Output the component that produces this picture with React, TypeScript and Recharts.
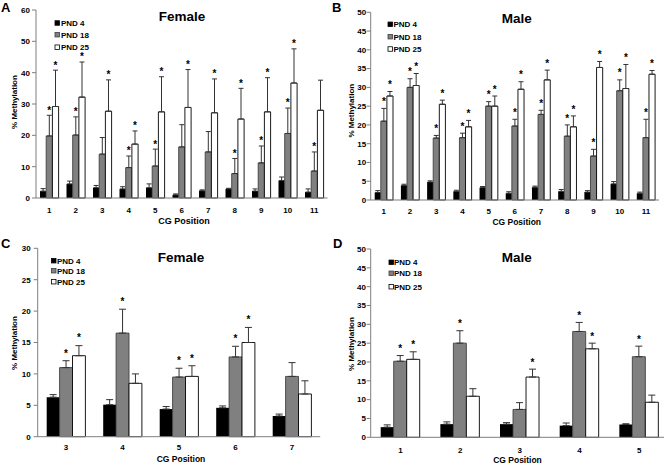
import React from 'react';
import { BarChart, Bar, XAxis, YAxis, ErrorBar, LabelList } from 'recharts';

const FONT = '"Liberation Sans", Arial, Helvetica, sans-serif';
const AXIS = '#7f7f7f';
const ERR = '#333333';

const seriesNames = ['PND 4', 'PND 18', 'PND 25'];
const seriesFill = ['#000000', '#808080', '#ffffff'];
const seriesStroke = ['#000000', '#3f3f3f', '#000000'];

// ---- Panel A: Female, CG 1-11
const posA = ['1', '2', '3', '4', '5', '6', '7', '8', '9', '10', '11'];
const femA4 = [2.2, 4.5, 3.3, 2.9, 3.3, 1.0, 2.3, 2.9, 2.2, 5.6, 1.9];
const femA4Err = [0.8, 0.9, 0.7, 0.7, 1.2, 0.3, 0.3, 0.2, 0.7, 1.1, 1.0];
const femA18 = [19.8, 20.1, 14.0, 9.7, 10.2, 16.3, 14.7, 7.8, 11.2, 20.6, 8.6];
const femA18Err = [6.6, 5.8, 5.3, 3.7, 5.4, 7.1, 6.5, 4.8, 5.4, 8.1, 6.1];
const femA25 = [29.2, 32.2, 27.7, 17.2, 27.5, 28.9, 27.2, 25.2, 27.5, 36.7, 28.0];
const femA25Err = [11.6, 11.2, 10.0, 4.2, 11.2, 12.1, 10.8, 9.8, 10.9, 10.9, 9.6];
const femA18Star = [1, 1, 0, 1, 1, 0, 0, 1, 1, 1, 1];
const femA25Star = [1, 1, 1, 1, 1, 1, 1, 1, 1, 1, 0];
const ticksA = [0, 10, 20, 30, 40, 50, 60];

// ---- Panel B: Male, CG 1-11
const posB = ['1', '2', '3', '4', '5', '6', '7', '8', '9', '10', '11'];
const maleB4 = [2.0, 3.9, 4.8, 2.3, 3.3, 1.8, 3.4, 2.3, 2.1, 4.3, 1.8];
const maleB4Err = [0.5, 0.3, 0.3, 0.3, 0.3, 0.4, 0.3, 0.5, 0.4, 0.6, 0.3];
const maleB18 = [21.0, 30.0, 16.5, 16.6, 25.0, 19.7, 22.8, 17.0, 11.7, 29.1, 16.6];
const maleB18Err = [3.4, 2.3, 0.7, 1.2, 1.2, 1.8, 1.1, 3.0, 1.8, 2.9, 4.9];
const maleB25 = [27.7, 30.5, 25.5, 19.5, 25.0, 29.5, 32.0, 19.5, 35.3, 29.7, 33.5];
const maleB25Err = [1.2, 3.2, 1.1, 1.7, 2.7, 2.0, 2.6, 2.9, 1.6, 6.4, 1.0];
const maleB18Star = [1, 1, 1, 1, 1, 1, 1, 1, 1, 1, 1];
const maleB25Star = [1, 1, 1, 1, 1, 1, 1, 1, 1, 1, 1];
const ticksB = [0, 5, 10, 15, 20, 25, 30, 35, 40, 45, 50];

// ---- Panel C: Female, CG 3-7
const posC = ['3', '4', '5', '6', '7'];
const femC4 = [6.3, 5.1, 4.4, 4.6, 3.3];
const femC4Err = [0.4, 0.8, 0.4, 0.3, 0.3];
const femC18 = [11.0, 16.5, 9.5, 12.7, 9.6];
const femC18Err = [1.1, 3.8, 1.4, 1.7, 2.2];
const femC25 = [12.9, 8.5, 9.6, 15.0, 6.8];
const femC25Err = [1.6, 1.5, 1.7, 2.4, 2.1];
const femC18Star = [1, 1, 1, 1, 0];
const femC25Star = [1, 0, 1, 1, 0];
const ticksC = [0, 5, 10, 15, 20, 25, 30];

// ---- Panel D: Male, CG 1-5
const posD = ['1', '2', '3', '4', '5'];
const maleD4 = [2.7, 3.5, 3.5, 3.1, 3.4];
const maleD4Err = [0.6, 0.6, 0.4, 0.7, 0.2];
const maleD18 = [20.2, 25.0, 7.4, 28.1, 21.4];
const maleD18Err = [1.5, 3.3, 1.8, 2.4, 2.8];
const maleD25 = [20.7, 10.9, 16.0, 23.5, 9.3];
const maleD25Err = [2.0, 2.0, 2.1, 1.5, 1.9];
const maleD18Star = [1, 1, 0, 1, 1];
const maleD25Star = [1, 0, 1, 1, 0];
const ticksD = [0, 5, 10, 15, 20, 25, 30, 35, 40, 45, 50];

type Cfg = {
  cats: string[];
  v: number[][];
  e: number[][];
  s18: number[];
  s25: number[];
  ticks: number[];
  box: { left: number; top: number; width: number; height: number };
  margin: { top: number; right: number; bottom: number; left: number };
  yAxisWidth: number;
  yTickMargin: number;
  xAxisHeight: number;
  xTickMargin: number;
  barSize: number;
  capWidth: number;
  starLift: number;
};

const panels: Cfg[] = [
  {
    cats: posA, v: [femA4, femA18, femA25], e: [femA4Err, femA18Err, femA25Err],
    s18: femA18Star, s25: femA25Star, ticks: ticksA,
    box: { left: 0, top: 0, width: 330, height: 232 },
    margin: { top: 10, right: 2.5, bottom: 0, left: 0 },
    yAxisWidth: 36, yTickMargin: 2, xAxisHeight: 34, xTickMargin: 3.2, barSize: 6.2, capWidth: 2.5, starLift: 1.6,
  },
  {
    cats: posB, v: [maleB4, maleB18, maleB25], e: [maleB4Err, maleB18Err, maleB25Err],
    s18: maleB18Star, s25: maleB25Star, ticks: ticksB,
    box: { left: 330, top: 0, width: 334, height: 232 },
    margin: { top: 12.3, right: 5, bottom: 0, left: 0 },
    yAxisWidth: 40.7, yTickMargin: 0.5, xAxisHeight: 32, xTickMargin: 2, barSize: 6.1, capWidth: 2.5, starLift: 3.4,
  },
  {
    cats: posC, v: [femC4, femC18, femC25], e: [femC4Err, femC18Err, femC25Err],
    s18: femC18Star, s25: femC25Star, ticks: ticksC,
    box: { left: 0, top: 230, width: 330, height: 234 },
    margin: { top: 18.3, right: 9.8, bottom: 0, left: 0 },
    yAxisWidth: 37.7, yTickMargin: 3, xAxisHeight: 27.3, xTickMargin: 1.2, barSize: 12.9, capWidth: 3.5, starLift: 4.2,
  },
  {
    cats: posD, v: [maleD4, maleD18, maleD25], e: [maleD4Err, maleD18Err, maleD25Err],
    s18: maleD18Star, s25: maleD25Star, ticks: ticksD,
    box: { left: 330, top: 230, width: 340, height: 234 },
    margin: { top: 19, right: 1, bottom: 0, left: 0 },
    yAxisWidth: 40.7, yTickMargin: 0.7, xAxisHeight: 26.7, xTickMargin: 3.9, barSize: 13, capWidth: 3.5, starLift: 3.4,
  },
];

const makeStarContent = (lift: number) => (props: any) => {
  const v = props.value;
  if (typeof v !== 'string' || !v) return null;
  const [val, err] = v.split('|').map(Number);
  const vb = props.viewBox || props;
  const x = Number(vb.x);
  const y = Number(vb.y);
  const w = Number(vb.width);
  const h = Number(vb.height);
  const hh = Math.abs(h);
  if (!val || !hh || isNaN(x)) return null;
  const top = Math.min(y, y + h);
  const errTop = top - (err * hh) / val;
  return (
    <text x={x + w / 2} y={errTop - lift} textAnchor="middle" fontSize={10} fontWeight="bold" fontFamily={FONT} fill="#000">
      *
    </text>
  );
};

function Panel({ cfg }: { cfg: Cfg }) {
  const rows = cfg.cats.map((c, i) => ({
    cat: c,
    pnd4: cfg.v[0][i],
    pnd18: cfg.v[1][i],
    pnd25: cfg.v[2][i],
    err4: [0, cfg.e[0][i]],
    err18: [0, cfg.e[1][i]],
    err25: [0, cfg.e[2][i]],
    star18: cfg.s18[i] ? `${cfg.v[1][i]}|${cfg.e[1][i]}` : '',
    star25: cfg.s25[i] ? `${cfg.v[2][i]}|${cfg.e[2][i]}` : '',
  }));
  const n = cfg.cats.length;
  const bounds = Array.from({ length: n + 1 }, (_, i) => i);
  const yMax = cfg.ticks[cfg.ticks.length - 1];
  const tickStyle = { fontSize: 8, fontWeight: 'bold', fill: '#000', fontFamily: FONT };
  const keys = ['pnd4', 'pnd18', 'pnd25'];
  const errKeys = ['err4', 'err18', 'err25'];
  const starContent = makeStarContent(cfg.starLift);
  return (
    <div style={{ position: 'absolute', left: cfg.box.left, top: cfg.box.top }}>
      <BarChart
        width={cfg.box.width}
        height={cfg.box.height}
        data={rows}
        margin={cfg.margin}
        barGap={0}
        barSize={cfg.barSize}
      >
        <XAxis
          xAxisId="bounds"
          type="number"
          domain={[0, n]}
          ticks={bounds}
          tick={false}
          tickSize={3}
          tickLine={{ stroke: AXIS }}
          axisLine={false}
          height={0}
          allowDataOverflow
        />
        <XAxis
          dataKey="cat"
          tickLine={false}
          axisLine={{ stroke: AXIS }}
          tick={tickStyle}
          interval={0}
          height={cfg.xAxisHeight}
          tickSize={6}
          tickMargin={cfg.xTickMargin}
        />
        <YAxis
          type="number"
          domain={[0, yMax]}
          ticks={cfg.ticks}
          interval={0}
          width={cfg.yAxisWidth}
          tickSize={4}
          tickMargin={cfg.yTickMargin}
          tickLine={{ stroke: AXIS }}
          axisLine={{ stroke: AXIS }}
          tick={tickStyle}
        />
        {keys.map((k, si) => (
          <Bar
            key={k}
            dataKey={k}
            name={seriesNames[si]}
            fill={seriesFill[si]}
            stroke={seriesStroke[si]}
            strokeWidth={si === 0 ? 0 : 0.9}
            isAnimationActive={false}
          >
            <ErrorBar dataKey={errKeys[si]} direction="y" width={cfg.capWidth} stroke={ERR} strokeWidth={1} />
            {si > 0 && <LabelList dataKey={si === 1 ? 'star18' : 'star25'} content={starContent} />}
          </Bar>
        ))}
      </BarChart>
    </div>
  );
}

type TextSpec = {
  letter: [number, number];
  title: string;
  titlePos: [number, number];
  yLabel: [number, number];
  xLabel: [number, number];
  xLabelSize: number;
  legend: { sqX: number; textX: number; rows: number[] };
};

const texts: TextSpec[] = [
  {
    letter: [1, 12], title: 'Female', titlePos: [182, 16], yLabel: [14, 102], xLabel: [184, 220.7], xLabelSize: 9,
    legend: { sqX: 55, textX: 61, rows: [23, 34.7, 47.2] },
  },
  {
    letter: [332, 12], title: 'Male', titlePos: [516.7, 18.3], yLabel: [350.7, 110.7], xLabel: [516.7, 221.7], xLabelSize: 8.5,
    legend: { sqX: 388, textX: 393.5, rows: [24.3, 36.7, 49] },
  },
  {
    letter: [1, 248.3], title: 'Female', titlePos: [181, 256.7], yLabel: [14, 343], xLabel: [181, 459.3], xLabelSize: 8.5,
    legend: { sqX: 51.5, textX: 57, rows: [260.7, 270.7, 281.7] },
  },
  {
    letter: [333, 248.3], title: 'Male', titlePos: [516.7, 256.7], yLabel: [350.7, 344], xLabel: [517.5, 460], xLabelSize: 8.5,
    legend: { sqX: 389, textX: 394, rows: [262.3, 273.3, 286.7] },
  },
];
const letters = ['A', 'B', 'C', 'D'];

function Overlay() {
  return (
    <svg width={664} height={464} style={{ position: 'absolute', left: 0, top: 0, pointerEvents: 'none' }} fontFamily={FONT} fontWeight="bold">
      {texts.map((t, i) => (
        <g key={i}>
          <text x={t.letter[0]} y={t.letter[1]} fontSize={13} fill="#000">{letters[i]}</text>
          <text x={t.titlePos[0]} y={t.titlePos[1] + 0.36 * 13.5} fontSize={13.5} textAnchor="middle" fill="#000">{t.title}</text>
          <g transform={`translate(${t.yLabel[0]},${t.yLabel[1]}) rotate(-90)`}>
            <text x={0} y={0.35 * 8} fontSize={8} textAnchor="middle" fill="#000">% Methylation</text>
          </g>
          <text x={t.xLabel[0]} y={t.xLabel[1] + 0.36 * t.xLabelSize} fontSize={t.xLabelSize} textAnchor="middle" fill="#000">CG Position</text>
          {t.legend.rows.map((ry, si) => (
            <g key={si}>
              <rect x={t.legend.sqX} y={ry - 2.25} width={4.5} height={4.5} fill={seriesFill[si]} stroke={seriesStroke[si]} strokeWidth={0.8} />
              <text x={t.legend.textX} y={ry + 2.9} fontSize={8} fill="#000">{seriesNames[si]}</text>
            </g>
          ))}
        </g>
      ))}
    </svg>
  );
}

export default function App() {
  return (
    <div style={{ position: 'absolute', left: 0, top: 0, width: 664, height: 464, overflow: 'hidden', background: '#fff' }}>
      {panels.map((p, i) => (
        <Panel key={i} cfg={p} />
      ))}
      <Overlay />
    </div>
  );
}
